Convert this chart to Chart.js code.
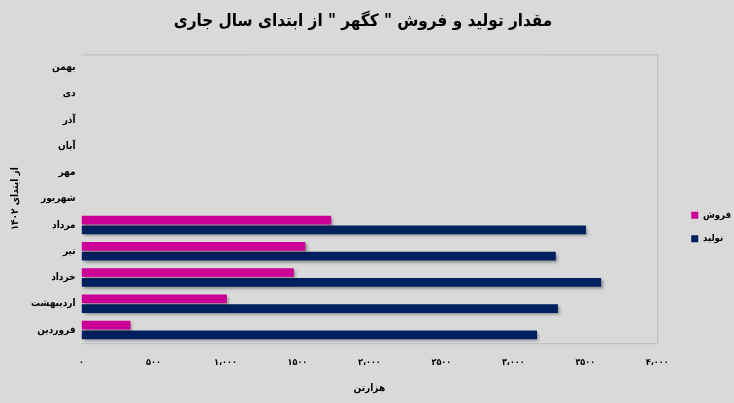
<!DOCTYPE html>
<html>
<head>
<meta charset="utf-8">
<script src="https://cdn.jsdelivr.net/npm/chart.js@4.4.0/dist/chart.umd.min.js"></script>
<style>
    html, body { margin: 0; padding: 0; background: #d9d9d9; }
    #wrap { width: 734px; height: 403px; position: relative; }
</style>
</head>
<body>
<div id="wrap"><canvas id="tolidChart"></canvas></div>
<script>
// ماه‌ها (از فروردین تا بهمن)
const months = ['فروردین', 'اردیبهشت', 'خرداد', 'تیر', 'مرداد', 'شهریور', 'مهر', 'آبان', 'آذر', 'دی', 'بهمن'];
// فروش - هزارتن
const salesValues = [340, 1010, 1475, 1555, 1735, null, null, null, null, null, null];
// تولید - هزارتن
const productionValues = [3165, 3310, 3610, 3295, 3505, null, null, null, null, null, null];
// برچسب‌های محور افقی
const xTickLabels = ['۰', '۵۰۰', '۱،۰۰۰', '۱۵۰۰', '۲،۰۰۰', '۲۵۰۰', '۳،۰۰۰', '۳۵۰۰', '۴،۰۰۰'];

const fontFamily = "'DejaVu Sans Condensed', 'DejaVu Sans', sans-serif";

// سایه میله‌ها
const barShadow = {
    id: 'barShadow',
    beforeDatasetsDraw(chart) {
        const ctx = chart.ctx;
        ctx.save();
        ctx.shadowColor = 'rgba(0,0,0,0.35)';
        ctx.shadowOffsetX = 2;
        ctx.shadowOffsetY = 2;
        ctx.shadowBlur = 3;
    },
    afterDatasetsDraw(chart) {
        chart.ctx.restore();
    }
};

// کادر ناحیه نمودار
const plotBorder = {
    id: 'plotBorder',
    beforeDatasetsDraw(chart) {
        const a = chart.chartArea;
        const ctx = chart.ctx;
        ctx.save();
        ctx.strokeStyle = '#bcbcbc';
        ctx.lineWidth = 1;
        ctx.beginPath();
        ctx.moveTo(a.left, a.top + 0.5);
        ctx.lineTo(a.right + 0.5, a.top + 0.5);
        ctx.lineTo(a.right + 0.5, a.bottom + 0.5);
        ctx.lineTo(a.left, a.bottom + 0.5);
        ctx.stroke();
        ctx.restore();
    }
};

// جابجایی راهنما
const legendShift = {
    id: 'legendShift',
    afterLayout(chart) {
        const lg = chart.legend;
        if (!lg) return;
        lg.left += 20; lg.right += 20;
        lg.top += 28; lg.bottom += 28;
    }
};

const ctx = document.getElementById('tolidChart');
new Chart(ctx, {
    type: 'bar',
    data: {
        labels: months,
        datasets: [{
            label: 'فروش',
            data: salesValues,
            backgroundColor: '#cc0099',
            categoryPercentage: 0.74,
            barPercentage: 0.9
        }, {
            label: 'تولید',
            data: productionValues,
            backgroundColor: '#002060',
            categoryPercentage: 0.74,
            barPercentage: 0.9
        }]
    },
    options: {
        indexAxis: 'y',
        responsive: true,
        maintainAspectRatio: false,
        animation: false,
        layout: {
            padding: { left: 5, right: 13, top: 0, bottom: 5 }
        },
        plugins: {
            title: {
                display: true,
                text: 'مقدار تولید و فروش " کگهر " از ابتدای سال جاری',
                color: '#000',
                font: { size: 17, weight: 'bold', family: fontFamily },
                padding: { top: 11, bottom: 23 }
            },
            legend: {
                position: 'right',
                labels: {
                    color: '#000',
                    boxWidth: 7,
                    boxHeight: 7,
                    padding: 14,
                    font: { size: 9.5, weight: 'bold', family: fontFamily }
                }
            },
            tooltip: { enabled: false }
        },
        scales: {
            y: {
                reverse: true,
                grid: { display: false, drawTicks: false },
                border: { display: false },
                ticks: {
                    color: '#000',
                    font: { size: 10, weight: 'bold', family: fontFamily },
                    padding: 6
                },
                title: {
                    display: true,
                    text: 'از ابتدای ۱۴۰۲',
                    color: '#000',
                    font: { size: 10, weight: 'bold', family: fontFamily },
                    padding: { top: 4, bottom: 4 }
                }
            },
            x: {
                min: 0,
                max: 4000,
                grid: { display: false, drawTicks: false },
                border: { display: false },
                ticks: {
                    stepSize: 500,
                    color: '#000',
                    font: { size: 9, weight: 'bold', family: fontFamily },
                    padding: 14,
                    maxRotation: 0,
                    callback: function(value, index) {
                        return xTickLabels[index];
                    }
                },
                title: {
                    display: true,
                    text: 'هزارتن',
                    color: '#000',
                    font: { size: 10, weight: 'bold', family: fontFamily },
                    padding: { top: 0 }
                }
            }
        }
    },
    plugins: [plotBorder, barShadow, legendShift]
});
</script>
</body>
</html>
